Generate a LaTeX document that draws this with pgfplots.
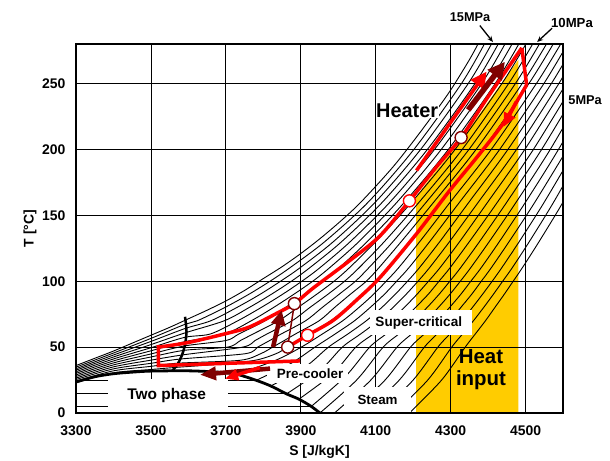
\documentclass[border=0pt]{standalone}
\usepackage{fontspec}
\setmainfont{Liberation Sans}
\usepackage{pgfplots}
\pgfplotsset{compat=1.18}
\usetikzlibrary{arrows.meta,calc}
\definecolor{heat}{RGB}{255,204,0}
\definecolor{mar}{RGB}{128,0,0}
\pgfplotsset{iso/.style={black, line width=0.9bp, smooth, mark=none}}
\newcommand{\fs}[1]{\fontsize{#1}{#1}\selectfont\bfseries}
\begin{document}
\begin{tikzpicture}
\begin{axis}[
  set layers, clip mode=individual,
  scale only axis, width=487bp, height=369bp,
  xmin=3300, xmax=4600, ymin=0, ymax=280,
  xtick={3300,3500,...,4500}, ytick={0,50,...,250},
  grid=major, major grid style={black, line width=0.8bp},
  tick pos=left, tick align=inside, major tick length=5bp,
  tick style={black, line width=0.8bp},
  axis line style={line width=1.8bp},
  /pgf/number format/assume math mode=true,
  /pgf/number format/1000 sep={},
  ticklabel style={font=\fs{14}},
  xticklabel style={yshift=-9bp},
  yticklabel style={xshift=-7bp},
  xlabel={S [J/kgK]}, ylabel={T [°C]},
  label style={font=\fs{14}},
  xlabel style={at={(axis description cs:0.5,-0.1057)}, anchor=center},
  ylabel style={at={(axis description cs:-0.0945,0.5)}, anchor=center},
]
\coordinate (BL) at (rel axis cs:0,0);
\coordinate (TR) at (rel axis cs:1,1);
% heat input area
\addplot[on layer=axis background, fill=heat, draw=none] coordinates {(4208,0) (4208,164) (4250,180) (4328,207) (4400,236) (4481,268) (4481,0)};
% isobars
\addplot[iso] coordinates {(3300,36) (3350,41.5) (3400,47) (3450,53) (3500,59) (3550,65) (3600,71.5) (3650,78) (3700,85) (3750,93) (3800,102) (3850,111) (3900,121) (3950,132) (4000,144) (4050,157) (4100,172) (4150,188) (4200,206) (4250,225) (4300,245) (4350,268) (4375,281)};
\addplot[iso] coordinates {(3300,34.8) (3400,45.5) (3500,56.6) (3590,67.2) (3624,70) (3697,80) (3761,90) (3818,100) (3870,110) (3964,130) (4080,160) (4202,200) (4329,250) (4392,281)};
\addplot[iso] coordinates {(3300,33.6) (3400,44.0) (3500,54.3) (3590,64.0) (3660,70) (3729,80) (3791,90) (3846,100) (3897,110) (3987,130) (4099,160) (4220,200) (4347,250) (4411,281)};
\addplot[iso] coordinates {(3300,32.5) (3400,42.5) (3500,51.9) (3590,60.7) (3696,70) (3762,80) (3821,90) (3875,100) (3923,110) (4009,130) (4118,160) (4238,200) (4365,250) (4429,281)};
\addplot[iso] coordinates {(3300,31.3) (3400,41.0) (3500,49.5) (3590,57.4) (3659,60) (3732,70) (3794,80) (3851,90) (3903,100) (3950,110) (4032,130) (4138,160) (4257,200) (4383,250) (4447,281)};
\addplot[iso] coordinates {(3300,30.1) (3400,39.5) (3500,47.2) (3590,54.1) (3697,60) (3768,70) (3827,80) (3881,90) (3932,100) (3976,110) (4055,130) (4157,160) (4275,200) (4401,250) (4466,281)};
\addplot[iso] coordinates {(3300,28.9) (3400,38.0) (3500,44.8) (3590,50.9) (3700,55) (3735,60) (3805,70) (3859,80) (3912,90) (3960,100) (4002,110) (4077,130) (4177,160) (4294,200) (4419,250) (4484,281)};
\addplot[iso] coordinates {(3300,27.7) (3400,36.5) (3500,42.5) (3590,47.6) (3705,50) (3739,55) (3773,60) (3841,70) (3892,80) (3942,90) (3989,100) (4029,110) (4100,130) (4196,160) (4312,200) (4437,250) (4503,281)};
\addplot[iso] coordinates {(3300,26.5) (3400,35.0) (3500,40.1) (3590,44.3) (3745,50) (3778,55) (3810,60) (3877,70) (3924,80) (3972,90) (4017,100) (4055,110) (4123,130) (4216,160) (4331,200) (4455,250) (4521,281)};
\addplot[iso] coordinates {(3300,25.4) (3400,33.5) (3500,37.7) (3580,41.0) (3752,45) (3785,50) (3817,55) (3848,60) (3913,70) (3957,80) (4002,90) (4046,100) (4081,110) (4146,130) (4235,160) (4349,200) (4473,250) (4539,281)};
\addplot[iso] coordinates {(3300,24.2) (3400,32.0) (3500,35.4) (3572,37.8) (3738,40) (3793,45) (3825,50) (3856,55) (3886,60) (3949,70) (3990,80) (4032,90) (4075,100) (4108,110) (4168,130) (4255,160) (4368,200) (4491,250) (4558,281)};
\addplot[iso] coordinates {(3300,23.0) (3400,30.5) (3500,33.0) (3562,34.5) (3680,37) (3778,40) (3834,45) (3865,50) (3895,55) (3924,60) (3980,70) (4025,80) (4065,90) (4100,100) (4133,110) (4191,130) (4274,160) (4386,200) (4509,250) (4576,281)};
\addplot[iso] coordinates {(3730,29.5) (3833,40) (3901.5,50) (3958,60) (4012,70) (4055,80) (4094,90) (4128,100) (4160.5,110) (4217.5,130) (4299,160) (4408.5,200) (4529,250) (4596,281)};
\addplot[iso] coordinates {(3781,24.8) (3873,37.5) (3938,50) (3992,60) (4043.5,70) (4085,80) (4123,90) (4156,100) (4188,110) (4244,130) (4324,160) (4431,200) (4549,250) (4612,280)};
\addplot[iso] coordinates {(3820,20.5) (3912,35) (3974,50) (4026,60) (4075,70) (4116,80) (4152,90) (4185,100) (4216,110) (4271,130) (4349,160) (4453,200) (4569,250) (4631,280)};
\addplot[iso] coordinates {(3862,14.5) (3951,32) (4011,50) (4060,60) (4107,70) (4146,80) (4181,90) (4213,100) (4243,110) (4297,130) (4374,160) (4476,200) (4589,250) (4649,280)};
\addplot[iso] coordinates {(3895,10.5) (3986,30) (4047,50) (4094,60) (4139,70) (4176,80) (4210,90) (4241,100) (4271,110) (4324,130) (4399,160) (4498,200) (4609,250)};
\addplot[iso] coordinates {(3928,5) (4020,28) (4084,50) (4128,60) (4171,70) (4206,80) (4240,90) (4269,100) (4298,110) (4350,130) (4425,160) (4521,200) (4629,250)};
\addplot[iso] coordinates {(3951,0) (4049,25) (4120,50) (4162,60) (4202,70) (4237,80) (4269,90) (4298,100) (4326,110) (4377,130) (4450,160) (4543,200) (4649,250)};
\addplot[iso] coordinates {(3990,0) (4087,25) (4157,50) (4196,60) (4234,70) (4267,80) (4298,90) (4326,100) (4353,110) (4403,130) (4475,160) (4566,200) (4668,250)};
\addplot[iso] coordinates {(4030,0) (4125,25) (4193,50) (4230,60) (4266,70) (4297,80) (4327,90) (4354,100) (4381,110) (4430,130) (4500,160) (4588,200) (4688,250)};
\addplot[iso] coordinates {(4070,0) (4163,25) (4230,50) (4264,60) (4298,70) (4327,80) (4356,90) (4382,100) (4408,110) (4456,130) (4525,160) (4611,200)};
\addplot[iso] coordinates {(4110,0) (4200,25) (4266,50) (4298,60) (4330,70) (4358,80) (4385,90) (4411,100) (4436,110) (4483,130) (4550,160) (4633,200)};
\addplot[iso] coordinates {(4150,0) (4239,25) (4303,50) (4332,60) (4361,70) (4388,80) (4414,90) (4439,100) (4464,110) (4510,130) (4575,160) (4655,200)};
\addplot[iso] coordinates {(4190,0) (4276,25) (4339,50) (4366,60) (4393,70) (4418,80) (4443,90) (4467,100) (4491,110) (4536,130) (4600,160) (4678,200)};
% two-phase horizontals
\addplot[black, line width=1bp] coordinates {(3305,24.8) (3781,24.8)};
\addplot[black, line width=1bp] coordinates {(3300,14.5) (3862,14.5)};
\addplot[black, line width=1bp] coordinates {(3300,5) (3928,5)};
% saturation dome and pseudo-critical line
\addplot[black, line width=2.8bp, smooth] coordinates {(3300,23.5) (3350,27.5) (3400,29.8) (3450,31) (3500,31.8) (3600,32) (3680,31) (3730,29.3) (3781,24.8) (3820,20.5) (3862,14.5) (3895,10.5) (3928,5) (3951,0)};
\addplot[black, line width=2.5bp, smooth] coordinates {(3591,73) (3595,62) (3591,52) (3583,44) (3571,37) (3557,32)};
% label boxes
\fill[white] (axis cs:3385,0) rectangle (axis cs:3706,26);
\fill[white] (axis cs:4085,59.5) rectangle (axis cs:4357,78.5);
\fill[white] (axis cs:3810,22.5) rectangle (axis cs:4025,37.5);
\fill[white] (axis cs:4015,0) rectangle (axis cs:4195,20);
\node[font=\fs{15.5}] at (axis cs:3542,13.5) {Two phase};
\node[font=\fs{13.6}] at (axis cs:4215,68.5) {Super-critical};
\node[font=\fs{13.5}] at (axis cs:3925,29.5) {Pre-cooler};
\node[font=\fs{13.4}] at (axis cs:4105,9.8) {Steam};
\node[font=\fs{20}, fill=white, inner sep=0.5bp] at (axis cs:4184,229.5) {Heater};
\node[font=\fs{20.5}, anchor=base] at (axis cs:4381,37.8) {Heat};
\node[font=\fs{20.5}, anchor=base] at (axis cs:4381,21) {input};
% cycle
\addplot[red, line width=3.5bp, line join=miter] coordinates {(3898,39.5) (3520,36) (3520,51.5)};
\addplot[red, line width=3.5bp, smooth] coordinates {(3520,50) (3600,53.5) (3711,61) (3765,65.5) (3845,77) (3883,83) (3934,95) (4023,114) (4110,134) (4190,161) (4260,186) (4328,209) (4393,237) (4490,277)};
\addplot[red, line width=3.5bp, line join=miter] coordinates {(4490,277) (4503,249)};
\addplot[red, line width=3.5bp, smooth] coordinates {(4503,249) (4441,220) (4370,194) (4298,169) (4209,136) (4112,103) (4050,86) (3987,70.4) (3918,59) (3865,50)};
\addplot[red, line width=3.5bp, -{Triangle[length=14bp,width=12bp]}] coordinates {(4475,236) (4441,217)};
\addplot[mar, line width=1.5bp] coordinates {(3865,50) (3883,83)};
% arrows
\addplot[mar, line width=4.5bp, -{Triangle[length=15bp,width=14bp]}] coordinates {(3826,50) (3849,78)};
\addplot[mar, line width=4.5bp, -{Triangle[length=16bp,width=13bp]}] coordinates {(3818,33.7) (3631,29)};
\addplot[red, line width=3.5bp, -{Triangle[length=13bp,width=11bp]}] coordinates {(3791,34.5) (3698,26)};
\addplot[red, line width=3.5bp, -{Triangle[length=16bp,width=16bp]}] coordinates {(4209,184) (4396,259)};
\addplot[mar, line width=5.5bp, -{Triangle[length=17bp,width=17bp]}] coordinates {(4347,230) (4445,266.5)};
% state points
\addplot[only marks, mark=*, mark size=6bp, mark options={fill=white, draw=mar, line width=1.4bp}] coordinates {(3883,83) (3865,50) (4328,209)};
\addplot[only marks, mark=*, mark size=6bp, mark options={fill=white, draw=red, line width=1.4bp}] coordinates {(3918,59) (4190,161)};
% pressure labels
\node[font=\fs{12.8}] at (axis cs:4352,300.5) {15MPa};
\node[font=\fs{13.2}] at (axis cs:4624,296) {10MPa};
\node[font=\fs{12.8}] at (axis cs:4659,237.5) {5MPa};
\draw[black, line width=1.3bp, -{Stealth[length=6bp,width=5bp]}] (axis cs:4378,294) -- (axis cs:4413,281.5);
\draw[black, line width=1.3bp, -{Stealth[length=6bp,width=5bp]}] (axis cs:4571,292) -- (axis cs:4531,281.5);
\begin{pgfonlayer}{axis foreground}
\draw[line width=1.8bp] (rel axis cs:0,0) rectangle (rel axis cs:1,1);
\end{pgfonlayer}
\end{axis}
\pgfresetboundingbox
\path ($(BL)+(-76bp,-48bp)$) rectangle ($(TR)+(47bp,44bp)$);
\end{tikzpicture}
\end{document}
